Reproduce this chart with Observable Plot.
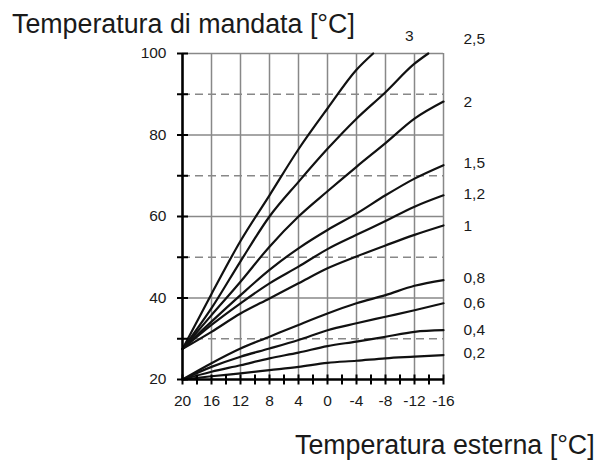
<!DOCTYPE html>
<html><head><meta charset="utf-8">
<script src="https://cdn.jsdelivr.net/npm/d3@7"></script>
<script src="https://cdn.jsdelivr.net/npm/@observablehq/plot@0.6"></script>
<style>
body{margin:0;background:#fff;}
#wrap{position:relative;width:601px;height:461px;font-family:"Liberation Sans",Arial,sans-serif;color:#1a1a1a;}
#wrap svg{position:absolute;left:0;top:0;}
.t{position:absolute;font-size:26.8px;line-height:26px;white-space:nowrap;z-index:2;}
</style></head><body>
<div id="wrap">
<div class="t" style="left:12px;top:11px">Temperatura di mandata [°C]</div>
<div class="t" style="left:295px;top:432px">Temperatura esterna [°C]</div>
</div>
<script>
// Outdoor temperature grid (°C)
const outdoor = [20, 16, 12, 8, 4, 0, -4, -8, -12, -16];
const xTickLabels = ["20", "16", "12", "8", "4", "0", "-4", "-8", "-12", "-16"];
const xMinorTicks = [20, 18, 16, 14, 12, 10, 8, 6, 4, 2, 0, -2, -4, -6, -8, -10, -12, -14, -16];
const yLabelTicks = [20, 40, 60, 80, 100];
const yAllTicks = [20, 30, 40, 50, 60, 70, 80, 90, 100];
const ySolidGrid = [40, 60, 80, 100];
const yDashedGrid = [30, 50, 70, 90];
const xGrid = [16, 12, 8, 4, 0, -4, -8, -12, -16];

// Curves (flow temperature, °C); steep curves stop where they leave the chart
const x3 = [20, 16, 12, 8, 4, 0, -4, -6.3];
const flow3 = [27.5, 41, 54, 65.2, 76.5, 86.5, 96, 100];
const x25 = [20, 16, 12, 8, 4, 0, -4, -8, -12, -13.9];
const flow25 = [27.5, 37.5, 49, 60, 68.5, 76.6, 84, 90.5, 97.5, 100];
const flow2 = [27.5, 35.8, 44, 52.6, 60, 66.2, 72.2, 78, 84, 88.2];
const flow15 = [27.5, 34.2, 40.7, 46.9, 52.2, 56.7, 60.7, 65.2, 69.3, 72.6];
const flow12 = [27.5, 33.4, 38.7, 43.6, 47.7, 52, 55.5, 58.9, 62.4, 65.2];
const flow1 = [27.5, 31.7, 36.2, 39.9, 43.6, 47.3, 50.2, 52.9, 55.5, 57.8];
const flow08 = [20, 24, 27.6, 30.5, 33.4, 36.2, 38.7, 40.7, 43, 44.4];
const flow06 = [20, 23.1, 25.6, 27.6, 29.7, 32.1, 33.8, 35.4, 37, 38.7];
const flow04 = [20, 21.9, 23.5, 25.2, 26.6, 28.2, 29.3, 30.5, 31.7, 32.1];
const flow02 = [20, 20.8, 21.5, 22.3, 23.1, 24.1, 24.6, 25.2, 25.6, 26];

// Right-hand curve labels
const curveNames = ["2,5", "2", "1,5", "1,2", "1", "0,8", "0,6", "0,4", "0,2"];
const curveLabelY = [103.6, 88.2, 73, 65.4, 57.6, 44.8, 38.8, 32.1, 26.5];
const topLabel = ["3"];
const topLabelX = [-11.3];
const topLabelY = [104.3];

const series = [
  ["3", x3, flow3], ["2,5", x25, flow25], ["2", outdoor, flow2], ["1,5", outdoor, flow15],
  ["1,2", outdoor, flow12], ["1", outdoor, flow1], ["0,8", outdoor, flow08],
  ["0,6", outdoor, flow06], ["0,4", outdoor, flow04], ["0,2", outdoor, flow02]
];
const rows = series.flatMap(([name, xs, ys]) => xs.map((x, i) => ({name, x, y: ys[i]})));
const labelRows = curveNames.map((t, i) => ({t, y: curveLabelY[i]}));

const hSym = {draw(ctx, size) { const r = Math.sqrt(size / Math.PI); ctx.moveTo(-r, 0); ctx.lineTo(r, 0); }};
const vSym = {draw(ctx, size) { const r = Math.sqrt(size / Math.PI); ctx.moveTo(0, -r); ctx.lineTo(0, r); }};
const grey = "#888";

const chart = Plot.plot({
  width: 601, height: 461,
  marginLeft: 182, marginRight: 158, marginTop: 53, marginBottom: 82,
  style: {fontFamily: "'Liberation Sans', Arial, sans-serif", color: "#1a1a1a", background: "transparent", overflow: "visible"},
  x: {domain: [20, -16], label: null},
  y: {domain: [20, 100], label: null},
  marks: [
    Plot.ruleX(xGrid, {stroke: grey, strokeWidth: 1.5}),
    Plot.ruleY(ySolidGrid, {stroke: grey, strokeWidth: 1.5}),
    Plot.ruleY(yDashedGrid, {stroke: grey, strokeWidth: 1.5, strokeDasharray: "8,5"}),
    Plot.line(rows, {x: "x", y: "y", z: "name", stroke: "#111", strokeWidth: 2.2, curve: "monotone-x"}),
    Plot.ruleX([20], {stroke: "#000", strokeWidth: 2.6}),
    Plot.ruleY([20], {stroke: "#000", strokeWidth: 2.6}),
    Plot.dot(yAllTicks, {x: () => 20, y: d => d, symbol: hSym, r: 5.5, fill: "none", stroke: "#000", strokeWidth: 2}),
    Plot.dot(xMinorTicks, {x: d => d, y: () => 20, symbol: vSym, r: 5, fill: "none", stroke: "#000", strokeWidth: 2}),
    Plot.axisY(yLabelTicks, {tickSize: 0, tickPadding: 16, fontSize: 15.5, label: null}),
    Plot.axisX(outdoor, {tickSize: 0, tickPadding: 15, fontSize: 15.5, label: null,
      tickFormat: d => xTickLabels[outdoor.indexOf(d)]}),
    Plot.text(labelRows, {x: () => -16, y: "y", text: "t", dx: 20, textAnchor: "start", fontSize: 15.5}),
    Plot.text(topLabel, {x: topLabelX, y: topLabelY, text: d => d, fontSize: 15.5})
  ]
});
document.getElementById("wrap").prepend(chart);
</script>
</body></html>
